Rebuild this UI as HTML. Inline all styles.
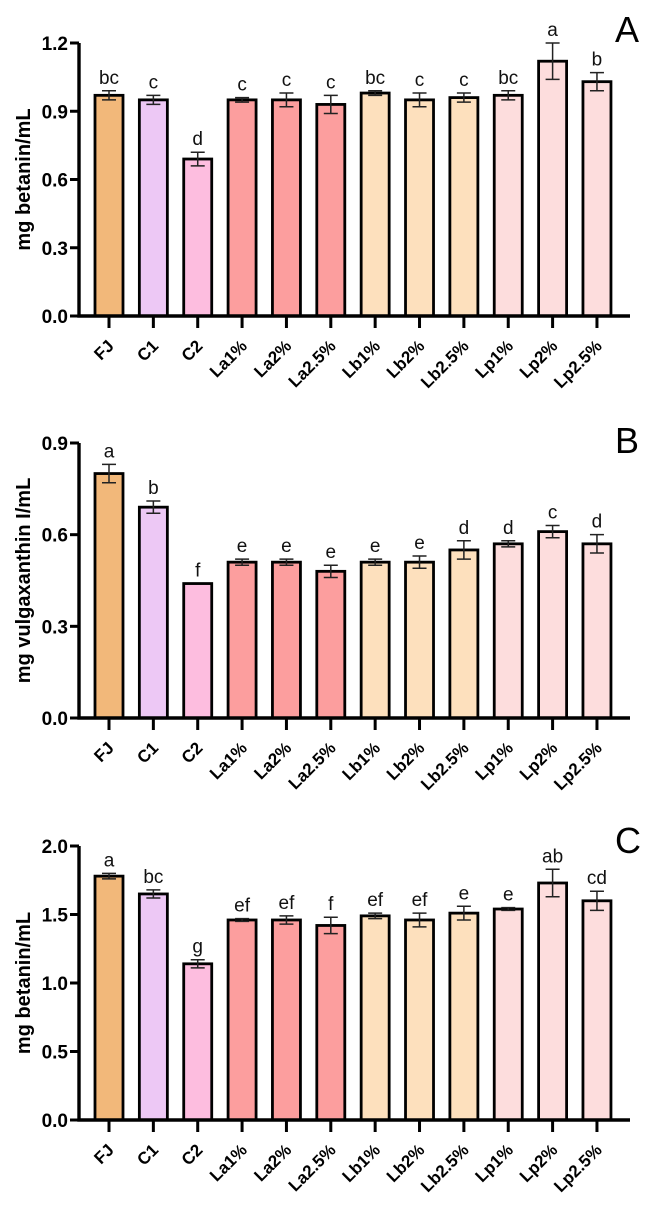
<!DOCTYPE html>
<html><head><meta charset="utf-8">
<style>
html,body{margin:0;padding:0;background:#fff;}
svg{display:block;font-family:"Liberation Sans",Arial,sans-serif;}
</style></head>
<body>
<svg id="fig" width="657" height="1207" viewBox="0 0 657 1207" xmlns="http://www.w3.org/2000/svg"></svg>
<script>
const categories = ["FJ","C1","C2","La1%","La2%","La2.5%","Lb1%","Lb2%","Lb2.5%","Lp1%","Lp2%","Lp2.5%"];
const colors = ["#F2B87A","#EDC8F5","#FDBDDF","#FC9E9E","#FC9E9E","#FC9E9E","#FDE0BD","#FDE0BD","#FDE0BD","#FDDDDD","#FDDDDD","#FDDDDD"];
const valuesA = [0.97,0.95,0.69,0.95,0.95,0.93,0.98,0.95,0.96,0.97,1.12,1.03];
const errorsA = [0.02,0.02,0.03,0.01,0.03,0.04,0.01,0.03,0.02,0.02,0.08,0.04];
const lettersA = ["bc","c","d","c","c","c","bc","c","c","bc","a","b"];
const ticksA = [0,0.3,0.6,0.9,1.2];
const valuesB = [0.80,0.69,0.44,0.51,0.51,0.48,0.51,0.51,0.55,0.57,0.61,0.57];
const errorsB = [0.03,0.02,0.0,0.01,0.01,0.02,0.01,0.02,0.03,0.01,0.02,0.03];
const lettersB = ["a","b","f","e","e","e","e","e","d","d","c","d"];
const ticksB = [0,0.3,0.6,0.9];
const valuesC = [1.78,1.65,1.14,1.46,1.46,1.42,1.49,1.46,1.51,1.54,1.73,1.60];
const errorsC = [0.02,0.03,0.03,0.01,0.03,0.06,0.02,0.05,0.05,0.01,0.10,0.07];
const lettersC = ["a","bc","g","ef","ef","f","ef","ef","e","e","ab","cd"];
const ticksC = [0,0.5,1.0,1.5,2.0];

const svg = document.getElementById('fig');
const NS = "http://www.w3.org/2000/svg";
function mk(tag, attrs, parent){
  const e = document.createElementNS(NS, tag);
  for (const k in attrs) e.setAttribute(k, attrs[k]);
  (parent||svg).appendChild(e);
  return e;
}
function panel(id, cfg){
  const g = mk('g', {});
  
  
  const x0 = 79, x1 = 630, cx0 = 109, step = 44.36, bw = 28;
  const y = v => cfg.zero - (v - 0) / cfg.max * (cfg.zero - cfg.top);
  const xc = i => cx0 + i * step;
  cfg.values.forEach((v, i) => {
    const r = mk('rect', {x: xc(i) - bw/2, y: y(v), width: bw, height: cfg.zero - y(v), fill: colors[i], stroke: '#000', 'stroke-width': 2.8}, g);
    
    
    const e = cfg.errors[i];
    if (e > 0) {
      const eb = mk('path', {d: `M${xc(i)} ${y(v+e)}V${y(v-e)}M${xc(i)-7} ${y(v+e)}H${xc(i)+7}M${xc(i)-7} ${y(v-e)}H${xc(i)+7}`, stroke: '#222', 'stroke-width': 1.5, fill: 'none'}, g);
      
      
    }
    const t = mk('text', {x: xc(i), y: y(v+e) - 7, 'text-anchor': 'middle', 'font-size': 19, fill: '#111'}, g);
    t.textContent = cfg.letters[i];
    
    
    const tk = mk('line', {x1: xc(i), x2: xc(i), y1: cfg.zero, y2: cfg.zero + 12, stroke: '#000', 'stroke-width': 3}, g);
    
    
    const lx = xc(i) + 6, ly = cfg.zero + 31;
    const lb = mk('text', {x: lx, y: ly, 'text-anchor': 'end', 'font-size': 17, 'font-weight': 'bold', transform: `rotate(-45 ${lx} ${ly})`}, g);
    lb.textContent = categories[i];
    
    
  });
  const ax = mk('path', {d: `M${x0} ${cfg.top}V${cfg.zero}H${x1}`, stroke: '#000', 'stroke-width': 3.4, fill: 'none'}, g);
  
  
  cfg.ticks.forEach(tv => {
    const l = mk('line', {x1: 70, x2: x0, y1: y(tv), y2: y(tv), stroke: '#000', 'stroke-width': 3}, g);
    
    
    const t = mk('text', {x: 68, y: y(tv) + 7, 'text-anchor': 'end', 'font-size': 19, 'font-weight': 'bold'}, g);
    t.textContent = tv.toFixed(1);
    
    
  });
  const mid = (cfg.top + cfg.zero) / 2;
  const yt = mk('text', {x: 30, y: mid, 'text-anchor': 'middle', 'font-size': 20, 'font-weight': 'bold', transform: `rotate(-90 30 ${mid})`}, g);
  yt.textContent = cfg.title;
  
  
  const pl = mk('text', {x: 615, y: cfg.labelY, 'font-size': 36}, g);
  pl.textContent = id;
  
  
}
panel('A', {values: valuesA, errors: errorsA, letters: lettersA, ticks: ticksA, max: 1.2, zero: 316, top: 43, title: 'mg betanin/mL', labelY: 42});
panel('B', {values: valuesB, errors: errorsB, letters: lettersB, ticks: ticksB, max: 0.9, zero: 718, top: 443, title: 'mg vulgaxanthin I/mL', labelY: 453});
panel('C', {values: valuesC, errors: errorsC, letters: lettersC, ticks: ticksC, max: 2.0, zero: 1120, top: 846, title: 'mg betanin/mL', labelY: 853});
</script>
</body></html>
